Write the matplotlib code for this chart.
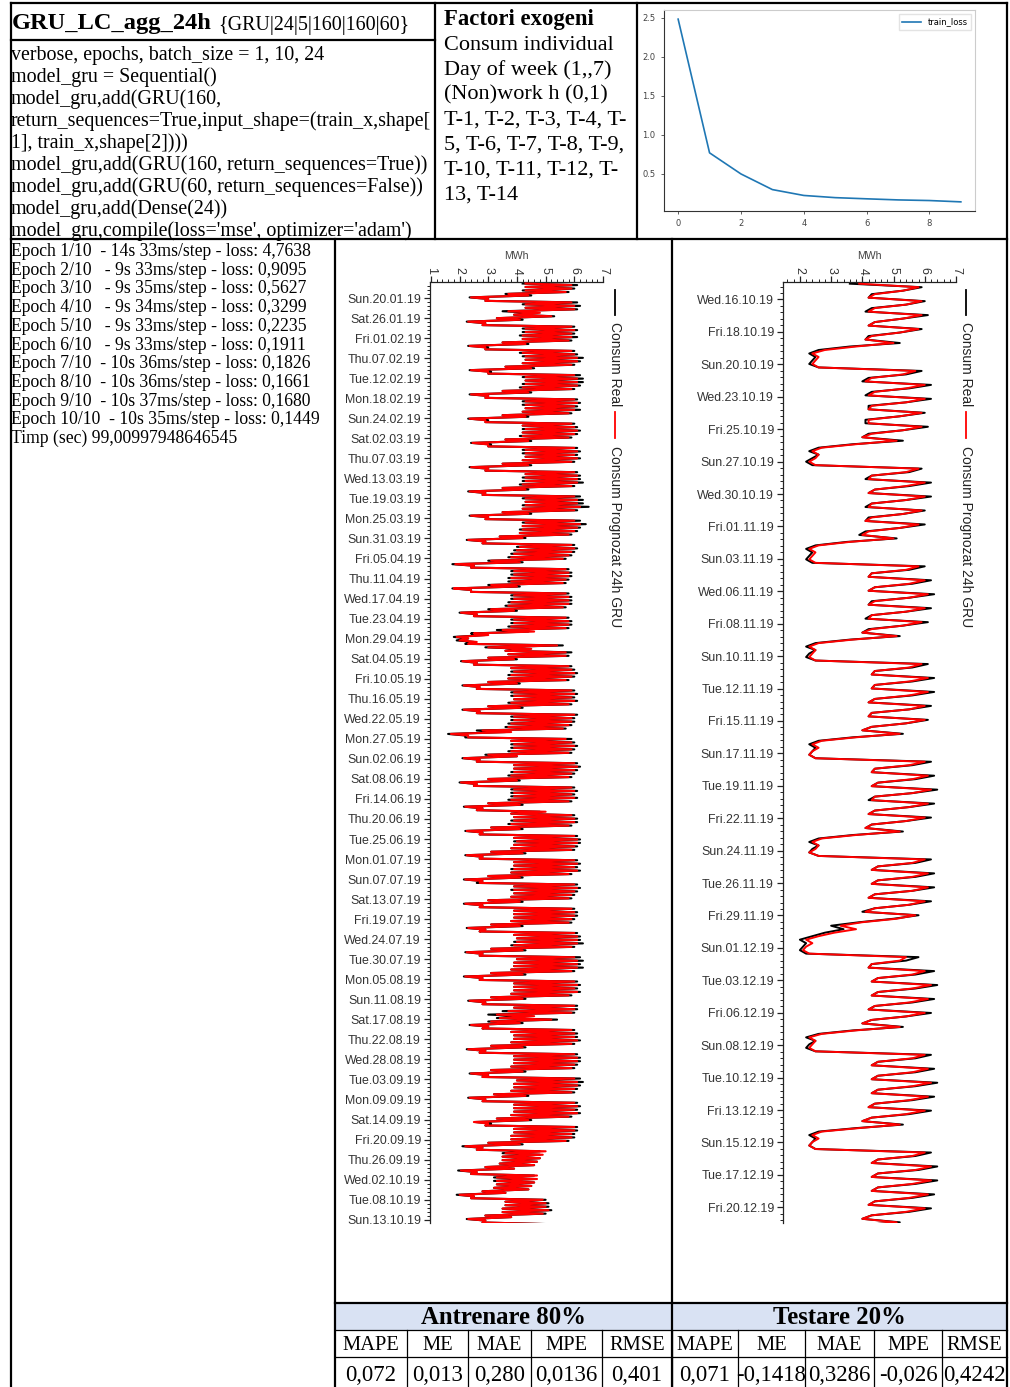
import numpy as np
import matplotlib
matplotlib.use("Agg")
import matplotlib.pyplot as plt
from matplotlib.lines import Line2D
from matplotlib.patches import Rectangle
from matplotlib.ticker import AutoMinorLocator, FixedLocator

# ---------------------------------------------------------------- texts
title_main = "GRU_LC_agg_24h"
title_cfg = "{GRU|24|5|160|160|60}"
model_code = [
    "verbose, epochs, batch_size = 1, 10, 24",
    "model_gru = Sequential()",
    "model_gru,add(GRU(160,",
    "return_sequences=True,input_shape=(train_x,shape[",
    "1], train_x,shape[2])))",
    "model_gru,add(GRU(160, return_sequences=True))",
    "model_gru,add(GRU(60, return_sequences=False))",
    "model_gru,add(Dense(24))",
    "model_gru,compile(loss='mse', optimizer='adam')",
]
exog_title = "Factori exogeni"
exog_lines = [
    "Consum individual",
    "Day of week (1,,7)",
    "(Non)work h (0,1)",
    "T-1, T-2, T-3, T-4, T-",
    "5, T-6, T-7, T-8, T-9,",
    "T-10, T-11, T-12, T-",
    "13, T-14",
]
epoch_log = [
    "Epoch 1/10  - 14s 33ms/step - loss: 4,7638",
    "Epoch 2/10   - 9s 33ms/step - loss: 0,9095",
    "Epoch 3/10   - 9s 35ms/step - loss: 0,5627",
    "Epoch 4/10   - 9s 34ms/step - loss: 0,3299",
    "Epoch 5/10   - 9s 33ms/step - loss: 0,2235",
    "Epoch 6/10   - 9s 33ms/step - loss: 0,1911",
    "Epoch 7/10  - 10s 36ms/step - loss: 0,1826",
    "Epoch 8/10  - 10s 36ms/step - loss: 0,1661",
    "Epoch 9/10  - 10s 37ms/step - loss: 0,1680",
    "Epoch 10/10  - 10s 35ms/step - loss: 0,1449",
    "Timp (sec) 99,00997948646545",
]

# ---------------------------------------------------------------- loss curve
loss_epochs = [0, 1, 2, 3, 4, 5, 6, 7, 8, 9]
train_loss = [2.48, 0.77, 0.50, 0.30, 0.225, 0.197, 0.182, 0.168, 0.160, 0.143]

# ---------------------------------------------------------------- date ticks
train_tick_labels = [
    "Sun.20.01.19", "Sat.26.01.19", "Fri.01.02.19", "Thu.07.02.19", "Tue.12.02.19",
    "Mon.18.02.19", "Sun.24.02.19", "Sat.02.03.19", "Thu.07.03.19", "Wed.13.03.19",
    "Tue.19.03.19", "Mon.25.03.19", "Sun.31.03.19", "Fri.05.04.19", "Thu.11.04.19",
    "Wed.17.04.19", "Tue.23.04.19", "Mon.29.04.19", "Sat.04.05.19", "Fri.10.05.19",
    "Thu.16.05.19", "Wed.22.05.19", "Mon.27.05.19", "Sun.02.06.19", "Sat.08.06.19",
    "Fri.14.06.19", "Thu.20.06.19", "Tue.25.06.19", "Mon.01.07.19", "Sun.07.07.19",
    "Sat.13.07.19", "Fri.19.07.19", "Wed.24.07.19", "Tue.30.07.19", "Mon.05.08.19",
    "Sun.11.08.19", "Sat.17.08.19", "Thu.22.08.19", "Wed.28.08.19", "Tue.03.09.19",
    "Mon.09.09.19", "Sat.14.09.19", "Fri.20.09.19", "Thu.26.09.19", "Wed.02.10.19",
    "Tue.08.10.19", "Sun.13.10.19",
]
test_tick_labels = [
    "Wed.16.10.19", "Fri.18.10.19", "Sun.20.10.19", "Wed.23.10.19", "Fri.25.10.19",
    "Sun.27.10.19", "Wed.30.10.19", "Fri.01.11.19", "Sun.03.11.19", "Wed.06.11.19",
    "Fri.08.11.19", "Sun.10.11.19", "Tue.12.11.19", "Fri.15.11.19", "Sun.17.11.19",
    "Tue.19.11.19", "Fri.22.11.19", "Sun.24.11.19", "Tue.26.11.19", "Fri.29.11.19",
    "Sun.01.12.19", "Tue.03.12.19", "Fri.06.12.19", "Sun.08.12.19", "Tue.10.12.19",
    "Fri.13.12.19", "Sun.15.12.19", "Tue.17.12.19", "Fri.20.12.19",
]

# ---------------------------------------------------------------- training set (MWh)
# one row per day starting Wed 16.01.2019: night minimum, daytime maximum
train_real = np.array("""
4.2 6.1  4.3 6.0  4.2 5.8  3.6 4.5  2.35 3.0  2.9 6.1  4.2 6.2
4.3 6.1  3.5 4.6  3.9 5.3  3.3 4.2  2.25 2.9  2.8 6.0  4.2 6.1
4.2 6.0  4.1 6.1  4.2 5.9  3.5 4.4  2.3 3.0  2.9 6.0  4.1 6.1
4.2 6.3  4.3 6.2  4.2 6.0  3.6 4.6  2.35 3.1  3.0 6.2  4.2 6.3
4.3 6.3  4.2 6.2  4.1 6.0  3.5 4.5  2.35 3.0  2.9 6.1  4.2 6.2
4.2 6.1  4.3 6.2  4.2 5.9  3.5 4.4  2.3 3.0  2.9 6.0  4.2 6.1
4.2 6.2  4.2 6.1  4.1 5.9  3.6 4.5  2.4 3.1  3.0 6.1  4.2 6.2
4.2 6.1  4.3 6.2  4.2 6.0  3.5 4.5  2.35 3.0  2.9 6.1  4.3 6.2
4.2 6.2  4.2 6.3  4.1 6.0  3.5 4.4  2.3 2.9  2.8 6.2  4.2 6.3
4.3 6.3  4.2 6.5  4.2 6.1  3.5 4.5  2.35 3.0  2.9 6.2  4.2 6.4
4.2 6.2  4.1 6.1  4.1 5.9  3.4 4.3  2.25 2.9  2.8 6.0  4.0 6.1
3.9 6.0  3.8 5.9  3.7 5.7  3.0 4.2  1.75 2.5  2.4 5.8  3.8 5.9
3.8 5.9  3.7 5.8  3.7 5.7  3.0 4.1  1.75 2.4  2.4 5.8  3.8 5.9
3.8 5.9  3.7 5.9  3.6 5.7  3.0 4.0  2.0 2.6  2.5 5.8  3.8 5.9
3.8 5.9  3.7 5.8  3.3 4.4  2.4 2.9  1.8 2.3  1.9 2.5  2.2 5.6
2.9 4.3  3.6 5.9  3.7 5.8  3.0 4.0  2.05 2.6  2.5 5.9  3.8 6.0
3.8 6.1  3.7 6.0  3.7 5.8  3.0 4.1  2.1 2.7  2.6 6.0  3.8 6.1
3.8 6.0  3.9 6.1  3.7 5.9  3.0 4.2  2.1 2.7  2.6 6.1  3.8 6.0
3.8 6.0  3.7 5.9  3.6 5.7  2.6 3.6  1.6 2.2  2.2 5.9  3.8 6.0
3.8 6.1  3.8 6.0  3.7 5.9  2.9 4.0  2.1 2.7  2.6 6.1  3.9 6.2
3.9 6.1  3.8 6.0  3.7 5.9  3.0 4.1  2.0 2.6  2.5 6.0  3.8 6.1
3.8 6.0  3.8 6.1  3.7 5.9  3.0 4.2  2.15 2.8  2.6 4.8  3.8 6.0
3.9 6.1  3.8 6.1  3.7 5.9  3.1 4.2  2.2 2.8  2.7 6.1  3.9 6.2
3.9 6.2  3.9 6.1  3.8 6.0  3.1 4.3  2.2 2.8  2.7 6.1  3.9 6.2
3.9 6.1  3.8 6.2  3.8 5.9  3.0 4.2  2.15 2.8  2.6 6.1  3.9 6.2
3.8 6.1  3.9 6.0  3.8 5.9  3.0 4.2  2.15 2.8  2.7 6.0  3.9 6.1
3.9 6.1  3.9 6.0  3.8 5.9  3.1 4.2  2.25 2.9  2.7 6.1  3.9 6.2
4.0 6.2  3.9 6.3  3.8 6.0  3.1 4.3  2.2 2.8  2.7 6.2  4.0 6.3
3.9 6.2  3.9 6.3  3.8 6.0  3.1 4.3  2.15 2.8  2.7 6.1  3.9 6.2
3.9 6.1  3.9 6.2  3.8 5.9  3.1 4.3  2.3 2.9  2.8 6.1  3.9 6.1
3.5 6.0  3.0 4.3  3.3 5.4  3.0 4.2  2.35 3.0  2.8 6.0  3.8 6.1
3.9 6.1  3.9 6.2  3.8 6.0  3.1 4.3  2.25 2.9  2.7 6.1  3.9 6.2
3.9 6.2  3.9 6.1  3.8 6.0  3.1 4.3  2.35 3.0  2.8 6.2  4.0 6.3
3.9 6.2  3.9 6.1  3.8 6.0  3.2 4.4  2.3 2.9  2.8 6.1  3.9 6.2
3.9 6.1  3.9 6.2  3.8 5.9  3.3 4.5  2.55 3.1  2.9 6.1  3.9 6.1
3.9 6.0  3.8 6.0  3.8 5.8  3.0 4.2  2.1 2.8  2.6 4.8  3.5 4.8
3.5 4.8  3.5 4.7  3.4 4.6  2.9 3.9  1.95 2.6  2.4 4.6  3.2 4.6
3.2 4.6  3.3 4.5  3.2 4.4  2.8 3.6  1.9 2.5  2.4 5.0  3.6 5.1
3.6 5.1  3.5 5.2  3.5 5.0  2.9 3.8  2.25 2.9  2.8 5.0
""".split(), dtype=float).reshape(-1, 2)

train_pred = np.array("""
4.3 5.9  4.3 5.9  4.3 5.7  3.7 4.4  2.4 3.0  2.9 5.9  4.3 6.0
4.3 6.0  3.7 4.8  3.9 5.2  3.3 4.1  2.3 2.9  2.8 5.9  4.3 6.0
4.3 5.9  4.2 5.9  4.2 5.8  3.5 4.3  2.35 2.9  2.9 5.9  4.2 6.0
4.3 6.1  4.3 6.1  4.2 5.9  3.6 4.5  2.4 3.0  3.0 6.0  4.3 6.1
4.3 6.1  4.3 6.1  4.2 5.9  3.5 4.4  2.4 3.0  2.9 6.0  4.3 6.1
4.3 6.0  4.3 6.0  4.2 5.8  3.5 4.3  2.35 2.9  2.9 5.9  4.2 6.0
4.3 6.1  4.2 6.0  4.2 5.8  3.6 4.4  2.45 3.0  3.0 6.0  4.3 6.1
4.3 6.0  4.3 6.1  4.2 5.9  3.5 4.4  2.4 3.0  2.9 6.0  4.3 6.1
4.3 6.1  4.3 6.1  4.2 5.9  3.5 4.3  2.35 2.9  2.8 6.0  4.3 6.1
4.3 6.1  4.3 6.2  4.2 6.0  3.5 4.4  2.4 3.0  2.9 6.0  4.3 6.2
4.2 6.1  4.2 6.0  4.1 5.8  3.4 4.2  2.3 2.9  2.8 5.9  4.1 6.0
4.0 5.9  3.9 5.8  3.8 5.6  3.1 4.1  1.85 2.5  2.4 5.7  3.9 5.8
3.9 5.8  3.8 5.7  3.8 5.6  3.1 4.0  1.8 2.4  2.4 5.7  3.9 5.8
3.9 5.8  3.8 5.8  3.7 5.6  3.1 3.9  2.05 2.6  2.5 5.7  3.9 5.8
3.9 5.8  3.8 5.7  3.5 4.6  2.5 3.0  1.9 2.3  2.0 2.6  2.3 5.4
3.0 4.5  3.6 5.7  3.7 5.7  3.0 3.9  2.1 2.6  2.5 5.8  3.8 5.9
3.9 6.0  3.8 5.9  3.7 5.7  3.0 4.0  2.15 2.7  2.6 5.9  3.9 6.0
3.9 5.9  3.9 6.0  3.8 5.8  3.0 4.1  2.15 2.7  2.6 6.0  3.9 5.9
3.9 5.9  3.8 5.8  3.7 5.6  2.8 3.8  1.7 2.3  2.3 5.7  3.8 5.9
3.9 6.0  3.9 5.9  3.8 5.8  3.0 4.0  2.15 2.7  2.6 6.0  3.9 6.1
3.9 6.0  3.9 5.9  3.8 5.8  3.0 4.0  2.05 2.6  2.5 5.9  3.9 6.0
3.9 5.9  3.9 6.0  3.8 5.8  3.0 4.1  2.2 2.8  2.6 5.0  3.8 5.9
3.9 6.0  3.9 6.0  3.8 5.8  3.1 4.1  2.25 2.8  2.7 6.0  3.9 6.1
4.0 6.1  3.9 6.0  3.8 5.9  3.1 4.2  2.25 2.8  2.7 6.0  3.9 6.1
3.9 6.0  3.9 6.1  3.8 5.8  3.0 4.1  2.2 2.8  2.7 6.0  3.9 6.1
3.9 6.0  3.9 5.9  3.8 5.8  3.0 4.1  2.2 2.8  2.7 5.9  3.9 6.0
3.9 6.0  3.9 5.9  3.8 5.8  3.1 4.1  2.3 2.9  2.7 6.0  3.9 6.1
4.0 6.1  4.0 6.1  3.9 5.9  3.1 4.2  2.25 2.8  2.7 6.0  4.0 6.1
3.9 6.1  3.9 6.1  3.8 5.9  3.1 4.2  2.2 2.8  2.7 6.0  3.9 6.1
3.9 6.0  3.9 6.1  3.8 5.8  3.1 4.2  2.35 2.9  2.8 6.0  3.9 6.0
3.7 5.9  3.3 4.6  3.4 5.2  3.1 4.1  2.4 3.0  2.8 5.9  3.8 6.0
3.9 6.0  3.9 6.1  3.8 5.9  3.1 4.2  2.3 2.9  2.7 6.0  3.9 6.1
3.9 6.1  3.9 6.0  3.8 5.9  3.1 4.2  2.4 3.0  2.8 6.0  4.0 6.1
3.9 6.1  3.9 6.0  3.8 5.9  3.2 4.3  2.35 2.9  2.8 6.0  3.9 6.1
3.9 6.0  3.9 6.1  3.8 5.8  3.3 4.4  2.5 3.0  2.9 6.0  3.9 6.0
3.9 5.9  3.8 5.9  3.8 5.7  3.0 4.1  2.2 2.8  2.6 5.0  3.6 4.9
3.5 4.8  3.5 4.7  3.4 4.6  2.9 3.9  2.05 2.6  2.4 4.7  3.3 4.7
3.3 4.6  3.3 4.5  3.2 4.4  2.8 3.6  2.0 2.5  2.4 4.9  3.6 5.0
3.6 5.0  3.5 5.1  3.5 4.9  2.9 3.8  2.3 2.9  2.8 4.9
""".split(), dtype=float).reshape(-1, 2)

# ---------------------------------------------------------------- test set (MWh)
# one row per day starting Tue 15.10.2019, four readings per day (00-06, 06-12, 12-18, 18-24 h)
test_real = np.array("""
3.6 5.9 5.3 4.3   4.2 6.0 5.4 4.3   4.1 6.1 5.3 4.4   4.2 5.9 5.2 4.2
4.1 5.2 3.6 2.6   2.3 2.5 2.4 2.3   2.6 5.9 5.4 4.2
4.0 6.2 5.5 4.3   4.1 6.2 5.4 4.2   4.2 6.0 5.2 4.1   4.1 6.1 5.3 4.2
4.0 5.3 3.7 2.6   2.3 2.6 2.4 2.2   2.4 5.9 5.5 4.3
4.1 6.2 5.5 4.4   4.2 6.2 5.4 4.3   4.1 6.0 5.3 4.2   4.1 6.0 5.2 4.1
3.9 5.1 3.5 2.5   2.2 2.4 2.3 2.2   2.4 6.0 5.5 4.3
4.2 6.2 5.6 4.4   4.2 6.3 5.5 4.3   4.2 6.2 5.4 4.3   4.1 6.1 5.3 4.2
4.0 5.2 3.6 2.5   2.2 2.5 2.3 2.2   2.5 6.1 5.6 4.4
4.3 6.3 5.6 4.4   4.3 6.3 5.6 4.4   4.2 6.2 5.5 4.3   4.2 6.1 5.4 4.3
4.0 5.3 3.7 2.6   2.3 2.5 2.4 2.3   2.5 6.2 5.6 4.4
4.3 6.3 5.7 4.5   4.3 6.4 5.6 4.4   4.2 6.3 5.5 4.4   4.2 6.2 5.4 4.3
4.1 5.3 3.7 2.6   2.3 2.6 2.4 2.3   2.6 6.2 5.7 4.5
4.3 6.3 5.7 4.5   4.3 6.3 5.6 4.4   4.2 6.2 5.5 4.4   4.0 5.8 5.0 3.9
3.0 3.4 2.8 2.4   2.0 2.2 2.1 2.0   2.2 5.8 5.4 4.3
4.2 6.3 5.7 4.5   4.3 6.4 5.7 4.5   4.3 6.3 5.6 4.4   4.2 6.2 5.4 4.3
4.0 5.3 3.7 2.6   2.2 2.5 2.3 2.2   2.5 6.2 5.7 4.5
4.3 6.3 5.7 4.5   4.3 6.4 5.7 4.5   4.3 6.3 5.6 4.4   4.2 6.2 5.5 4.3
4.0 5.3 3.8 2.6   2.3 2.5 2.4 2.3   2.5 6.2 5.7 4.5
4.3 6.4 5.8 4.5   4.3 6.4 5.7 4.5   4.3 6.3 5.6 4.4   4.2 6.2 5.5 4.3
4.0 5.2 3.7 2.6
""".split(), dtype=float).reshape(-1, 4)

test_pred = np.array("""
3.9 5.8 5.3 4.4   4.2 5.9 5.4 4.4   4.2 5.9 5.3 4.4   4.2 5.8 5.2 4.3
4.1 5.0 3.8 2.8   2.4 2.6 2.5 2.4   2.6 5.7 5.3 4.3
4.1 6.0 5.4 4.4   4.2 6.0 5.4 4.3   4.2 5.9 5.2 4.2   4.2 5.9 5.3 4.3
4.0 5.1 3.8 2.7   2.4 2.6 2.5 2.3   2.5 5.8 5.4 4.3
4.2 6.0 5.4 4.4   4.2 6.0 5.4 4.3   4.2 5.9 5.3 4.3   4.1 5.8 5.2 4.2
4.0 5.0 3.6 2.6   2.3 2.5 2.4 2.3   2.5 5.8 5.4 4.3
4.2 6.0 5.5 4.4   4.2 6.1 5.5 4.4   4.2 6.0 5.4 4.3   4.2 5.9 5.3 4.3
4.0 5.1 3.7 2.6   2.3 2.5 2.4 2.3   2.5 5.9 5.5 4.4
4.3 6.1 5.5 4.4   4.3 6.1 5.5 4.4   4.2 6.0 5.5 4.3   4.2 6.0 5.4 4.3
4.0 5.2 3.8 2.7   2.4 2.6 2.4 2.3   2.5 6.0 5.5 4.4
4.3 6.1 5.6 4.5   4.3 6.2 5.6 4.4   4.3 6.1 5.5 4.4   4.2 6.0 5.4 4.3
4.1 5.2 3.8 2.7   2.4 2.6 2.5 2.3   2.6 6.0 5.6 4.5
4.3 6.1 5.6 4.5   4.3 6.1 5.6 4.4   4.2 6.0 5.5 4.4   4.1 5.7 5.1 4.0
3.3 3.8 3.1 2.6   2.2 2.4 2.2 2.1   2.3 5.4 5.2 4.3
4.2 6.0 5.6 4.5   4.3 6.2 5.6 4.5   4.3 6.1 5.5 4.4   4.2 6.0 5.4 4.3
4.0 5.2 3.8 2.7   2.3 2.5 2.4 2.3   2.5 6.0 5.6 4.5
4.3 6.1 5.6 4.5   4.3 6.2 5.6 4.5   4.3 6.1 5.5 4.4   4.2 6.0 5.4 4.3
4.0 5.2 3.9 2.7   2.4 2.6 2.4 2.3   2.5 6.0 5.6 4.5
4.3 6.2 5.7 4.5   4.3 6.2 5.6 4.5   4.3 6.1 5.5 4.4   4.2 6.0 5.4 4.3
4.0 5.1 3.8 2.7
""".split(), dtype=float).reshape(-1, 4)

# ---------------------------------------------------------------- metrics table
split_titles = ["Antrenare 80%", "Testare 20%"]
metric_names = ["MAPE", "ME", "MAE", "MPE", "RMSE"]
train_metrics = ["0,072", "0,013", "0,280", "0,0136", "0,401"]
test_metrics = ["0,071", "-0,1418", "0,3286", "-0,026", "0,4242"]

# ================================================================ figure
W, H = 1010, 1387
fig = plt.figure(figsize=(W / 100, H / 100), dpi=100)
fig.patch.set_facecolor("white")
renderer = fig.canvas.get_renderer()

SERIF = ["Liberation Serif", "DejaVu Serif"]
SANS = ["Liberation Sans", "DejaVu Sans"]


def fx(x):
    return x / W


def fy(y):
    return 1 - y / H


def ax_px(x0, y0, x1, y1):
    return fig.add_axes([fx(x0), fy(y1), (x1 - x0) / W, (y1 - y0) / H])


def seg(x0, y0, x1, y1, lw=1.5, color="black", z=10):
    fig.add_artist(Line2D([fx(x0), fx(x1)], [fy(y0), fy(y1)], lw=lw, color=color,
                          solid_capstyle="projecting", zorder=z))


def fit(s, width, **kw):
    t = fig.text(0, 0, s, fontsize=10, **kw)
    w = t.get_window_extent(renderer=renderer).width
    t.remove()
    return 10.0 * width / w


def put(x, y_center, s, size, **kw):
    # y_center is the visual middle of capitals; shift to baseline
    base = y_center + 0.34 * size * 100 / 72
    return fig.text(fx(x), fy(base), s, fontsize=size, va="baseline", **kw)


# ---------------------------------------------------------------- header cells
fs_title = fit(title_main, 199, family=SERIF, weight="bold")
put(12, 21, title_main, fs_title, family=SERIF, weight="bold")
fs_cfg = fit(title_cfg, 192, family=SERIF)
put(218, 23, title_cfg, fs_cfg, family=SERIF)

fs_code = fit(model_code[3], 420, family=SERIF)
for i, line in enumerate(model_code):
    put(11, 53 + 22 * i, line, fs_code, family=SERIF)

fs_exb = fit(exog_title, 150, family=SERIF, weight="bold")
put(444, 17, exog_title, fs_exb, family=SERIF, weight="bold")
fs_ex = fit(exog_lines[0], 170, family=SERIF)
for i, line in enumerate(exog_lines):
    put(444, 42 + 25 * i, line, fs_ex, family=SERIF)

fs_ep = fit(epoch_log[9], 309, family=SERIF)
for i, line in enumerate(epoch_log):
    put(11, 250 + 18.7 * i, line, fs_ep, family=SERIF)

# ---------------------------------------------------------------- loss plot
axl = ax_px(664, 10, 975, 211)
axl.plot(loss_epochs, train_loss, color="#1f77b4", lw=1.2, label="train_loss")
axl.set_xticks([0, 2, 4, 6, 8])
axl.set_yticks([0.5, 1.0, 1.5, 2.0, 2.5])
axl.tick_params(labelsize=6, colors="#444444", length=2.5, width=0.6)
for side in ("top", "right"):
    axl.spines[side].set_color("#cccccc")
for side in ("left", "bottom"):
    axl.spines[side].set_color("#333333")
for sp in axl.spines.values():
    sp.set_linewidth(0.8)
axl.legend(loc="upper right", fontsize=6, handlelength=2.2, frameon=True,
           edgecolor="#dddddd", fancybox=False)

# ---------------------------------------------------------------- forecast plots
fs_date = fit("Sun.20.01.19", 73, family=SANS)
fs_leg = fit("Consum Prognozat 24h GRU", 182, family=SANS)


def series_plot(x0, x1, xlim, n_days, px_per_day, tick0, tick_step, labels, xticks,
                real, pred, offsets, legend_x, lw):
    ax = ax_px(x0, 282, x1, 1223)
    t = (np.arange(real.shape[0])[:, None] + np.asarray(offsets)[None, :]).ravel()
    ax.plot(real.ravel(), t, color="black", lw=lw, zorder=2)
    ax.plot(pred.ravel(), t, color="#ff0000", lw=lw, zorder=3)
    ax.set_xlim(*xlim)
    ax.set_ylim(n_days, -1.0 / px_per_day)
    for side in ("right", "bottom"):
        ax.spines[side].set_visible(False)
    for side in ("top", "left"):
        ax.spines[side].set_color("#222222")
        ax.spines[side].set_linewidth(0.9)
    ax.xaxis.set_ticks_position("top")
    ax.xaxis.set_label_position("top")
    ax.set_xticks(xticks)
    ax.xaxis.set_minor_locator(AutoMinorLocator(5))
    ax.set_xticklabels([str(v) for v in xticks], rotation=270, family=SANS,
                       fontsize=fs_date, color="#333333")
    ax.set_xlabel("MWh", family=SANS, fontsize=fs_date * 0.85, color="#444444",
                  labelpad=6)
    pos = tick0 + tick_step * np.arange(len(labels))
    ax.yaxis.set_major_locator(FixedLocator(pos))
    ax.yaxis.set_minor_locator(AutoMinorLocator(5))
    ax.set_yticklabels(labels, family=SANS, fontsize=fs_date, color="#333333")
    ax.tick_params(which="major", length=4.5, width=0.9, color="#222222", pad=2)
    ax.tick_params(which="minor", length=2.5, width=0.7, color="#222222")
    ax.tick_params(axis="x", pad=1.0)
    # legend drawn vertically along the right side
    seg(legend_x, 290, legend_x, 315, lw=1.3, color="black", z=5)
    fig.text(fx(legend_x), fy(322), "Consum Real", rotation=270, ha="center", va="top",
             family=SANS, fontsize=fs_leg, color="#222222")
    seg(legend_x, 412, legend_x, 438, lw=1.3, color="#ff0000", z=5)
    fig.text(fx(legend_x), fy(446), "Consum Prognozat 24h GRU", rotation=270,
             ha="center", va="top", family=SANS, fontsize=fs_leg, color="#222222")
    return ax


series_plot(430, 603, (0.97, 7.0), 271.3, 3.462, 4.33, 5.783, train_tick_labels,
            [1, 2, 3, 4, 5, 6, 7], train_real, train_pred, [0.15, 0.6], 615, 1.5)
series_plot(783, 956, (1.46, 7.0), 67.35, 13.95, 1.18, 2.323, test_tick_labels,
            [2, 3, 4, 5, 6, 7], test_real, test_pred, [0.05, 0.3, 0.55, 0.8], 966, 1.4)

# ---------------------------------------------------------------- metrics table
fig.add_artist(Rectangle((fx(335), fy(1330)), (1007 - 335) / W, 27 / H,
                         facecolor="#d9e2f3", edgecolor="none", zorder=1))
fs_split = fit(split_titles[0], 165, family=SERIF, weight="bold")
put(503.5, 1316, split_titles[0], fs_split, family=SERIF, weight="bold", ha="center")
put(839.5, 1316, split_titles[1], fs_split, family=SERIF, weight="bold", ha="center")

col_edges = [335, 407, 468, 531, 602, 672, 738, 805, 874, 942, 1007]
fs_head = fit("RMSE", 56, family=SERIF)
fs_val = fit("0,0136", 62, family=SERIF)
values = train_metrics + test_metrics
for i in range(10):
    xc = (col_edges[i] + col_edges[i + 1]) / 2
    put(xc, 1343, metric_names[i % 5], fs_head, family=SERIF, ha="center")
    put(xc, 1373, values[i], fs_val, family=SERIF, ha="center")

# ---------------------------------------------------------------- grid lines
thick, thin = 1.6, 0.9
seg(11, 3, 1007, 3, thick)
seg(11, 3, 11, 1387, thick)
seg(1007, 3, 1007, 1387, thick)
seg(11, 40, 435, 40, thick)
seg(435, 3, 435, 239, thick)
seg(637, 3, 637, 239, thick)
seg(11, 239, 1007, 239, thick)
seg(335, 239, 335, 1387, thick)
seg(672, 239, 672, 1387, thick)
seg(335, 1303, 1007, 1303, thick)
seg(335, 1330, 1007, 1330, thin)
seg(335, 1357, 1007, 1357, thin)
for xe in col_edges[1:-1]:
    seg(xe, 1330, xe, 1387, thin)

fig.savefig("out.png", dpi=100, facecolor="white")
